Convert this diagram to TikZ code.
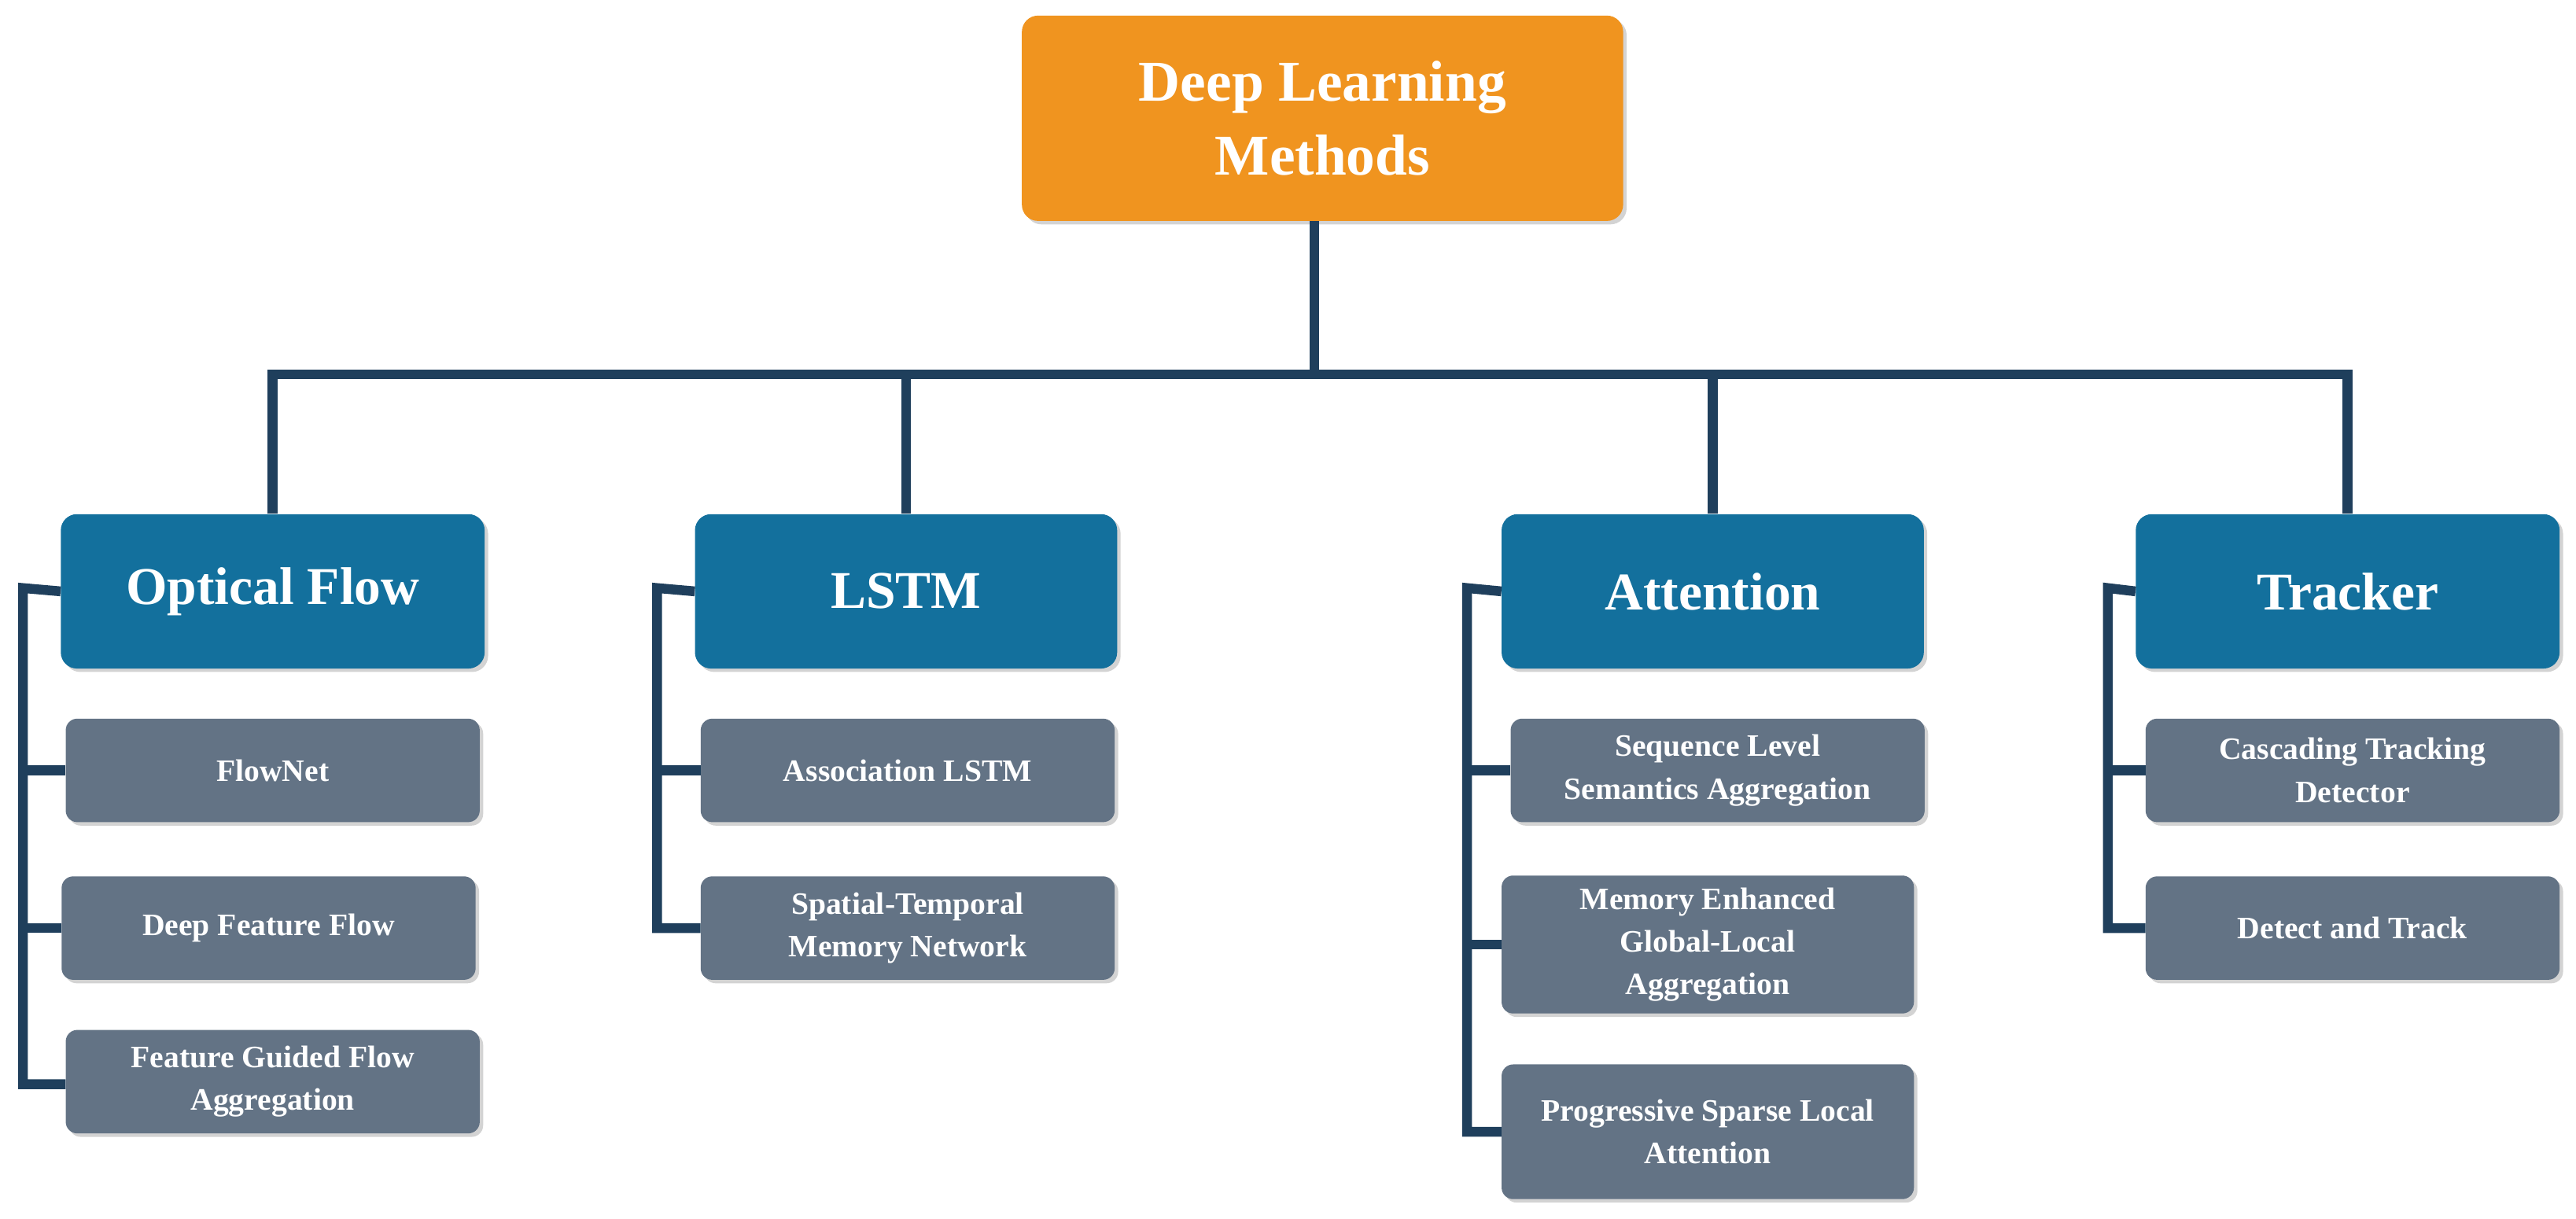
\documentclass[tikz,border=0pt]{standalone}
\usepackage{fontspec}
\setmainfont{Liberation Serif}
\usetikzlibrary{shadows}
\definecolor{rootc}{HTML}{F0941F}
\definecolor{catc}{HTML}{13709D}
\definecolor{childc}{HTML}{637385}
\definecolor{linec}{HTML}{1F3F5C}
\begin{document}
\begin{tikzpicture}[x=0.05cm,y=-0.05cm,
 box/.style={draw=none,rounded corners=14pt,text=white,font=\bfseries,align=center,inner sep=0pt,
   drop shadow={shadow xshift=3pt,shadow yshift=-3pt,opacity=0.35}},
 ln/.style={draw=linec,line width=8.5pt},
 rootb/.style={box,fill=rootc,font=\bfseries\fontsize{50}{64}\selectfont},
 catb/.style={box,fill=catc,font=\bfseries\fontsize{46}{50}\selectfont},
 chb/.style={box,fill=childc,rounded corners=10pt,font=\bfseries\fontsize{27}{37}\selectfont}]
\useasboundingbox (0,0) rectangle (1568,742);
\newcommand{\bx}[5]{\node[#1,minimum width=#4*0.05cm-0pt,minimum height=#5*0.05cm] (#2) at (#3) {};}
% root
\node[rootb,minimum width=18.3cm,minimum height=6.25cm] (root) at (805,72) {Deep Learning\\Methods};
% categories
\node[catb,minimum width=12.9cm,minimum height=4.7cm] (of) at (166,360) {Optical Flow};
\node[catb,minimum width=12.85cm,minimum height=4.7cm] (ls) at (551.5,360) {LSTM};
\node[catb,minimum width=12.85cm,minimum height=4.7cm] (at) at (1042.5,360) {Attention};
\node[catb,minimum width=12.9cm,minimum height=4.7cm] (tr) at (1429,360) {Tracker};
% children
\tikzset{cw/.style={chb,minimum width=12.6cm,minimum height=3.15cm}}
\node[cw] (c1) at (166,469) {FlowNet};
\node[cw] (c2) at (163.5,565) {Deep Feature Flow};
\node[cw] (c3) at (166,658.5) {Feature Guided Flow\\Aggregation};
\node[cw] (c4) at (552.5,469) {Association LSTM};
\node[cw] (c5) at (552.5,565) {Spatial-Temporal\\Memory Network};
\node[cw] (c6) at (1045.5,469) {Sequence Level\\Semantics Aggregation};
\node[chb,minimum width=12.55cm,minimum height=4.2cm] (c7) at (1039.5,575) {Memory Enhanced\\Global-Local\\Aggregation};
\node[chb,minimum width=12.55cm,minimum height=4.1cm] (c8) at (1039.5,689) {Progressive Sparse Local\\Attention};
\node[cw] (c9) at (1432,469) {Cascading Tracking\\Detector};
\node[cw] (c10) at (1432,565) {Detect and Track};
% tree lines
\coordinate (h) at (800,228);
\begin{scope}[on background layer/.style={}]
\draw[ln] (root.south -| h) -- (h);
\draw[ln,line join=miter] (of.north) -- (of.north |- h) -- (tr.north |- h) -- (tr.north);
\draw[ln] (ls.north |- h) -- (ls.north);
\draw[ln] (at.north |- h) -- (at.north);
\end{scope}
% brackets
\coordinate (b1) at (14,358);\coordinate (b1e) at (14,660);
\draw[ln,line join=miter] (of.west) -- (b1) -- (b1e) -- (c3.west |- b1e);
\draw[ln] (b1 |- c1.west) -- (c1.west);
\draw[ln] (b1 |- c2.west) -- (c2.west);
\coordinate (b2) at (400,358);\coordinate (b2e) at (400,565);
\draw[ln,line join=miter] (ls.west) -- (b2) -- (b2e) -- (c5.west |- b2e);
\draw[ln] (b2 |- c4.west) -- (c4.west);
\coordinate (b3) at (893,358);\coordinate (b3e) at (893,689);
\draw[ln,line join=miter] (at.west) -- (b3) -- (b3e) -- (c8.west |- b3e);
\draw[ln] (b3 |- c6.west) -- (c6.west);
\draw[ln] (b3 |- c7.west) -- (c7.west);
\coordinate (b4) at (1283,358);\coordinate (b4e) at (1283,565);
\draw[ln,line join=miter] (tr.west) -- (b4) -- (b4e) -- (c10.west |- b4e);
\draw[ln] (b4 |- c9.west) -- (c9.west);
\end{tikzpicture}
\end{document}
